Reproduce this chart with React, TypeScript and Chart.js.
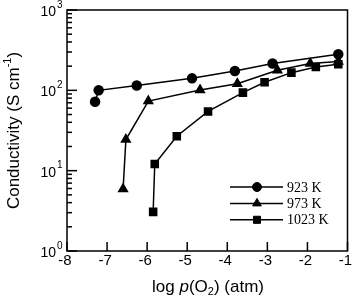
import React, { useEffect, useRef } from "react";
import { Chart, registerables } from "chart.js";

Chart.register(...registerables);

const labels923 = "923 K";
const labels973 = "973 K";
const labels1023 = "1023 K";

const x923 = [-7.3, -7.21, -6.26, -4.88, -3.81, -2.87, -1.23];
const y923 = [72, 100, 115, 141, 174, 216, 282];

const x973 = [-6.6, -6.53, -5.97, -4.68, -3.75, -2.75, -1.93, -1.23];
const y973 = [5.9, 24.4, 73.5, 101, 121, 178, 216, 228];

const x1023 = [-5.85, -5.81, -5.26, -4.48, -3.61, -3.07, -2.4, -1.79, -1.23];
const y1023 = [3.07, 12.1, 26.8, 54.6, 93.6, 126, 166, 195, 211];

const xTicks = [-8, -7, -6, -5, -4, -3, -2, -1];
const yDecades = [0, 1, 2, 3];

const toPts = (xs: number[], ys: number[]) => xs.map((x, i) => ({ x, y: ys[i] }));

const SANS = "Arial, 'Liberation Sans', sans-serif";
const SERIF = "'Times New Roman', 'Liberation Serif', serif";

function marker(ctx: CanvasRenderingContext2D, style: string, r: number, x: number, y: number) {
  ctx.beginPath();
  if (style === "circle") {
    ctx.arc(x, y, r, 0, Math.PI * 2);
  } else if (style === "triangle") {
    const h = r * 1.5;
    const s = r * Math.sqrt(3) * 0.5;
    ctx.moveTo(x, y - r);
    ctx.lineTo(x + s, y - r + h);
    ctx.lineTo(x - s, y - r + h);
    ctx.closePath();
  } else {
    const s = r * Math.SQRT1_2;
    ctx.rect(x - s, y - s, 2 * s, 2 * s);
  }
  ctx.fill();
  ctx.lineWidth = 1;
  ctx.stroke();
}

const decorPlugin = {
  id: "decor",
  afterDraw(chart: any) {
    const { ctx, chartArea } = chart;
    const xs = chart.scales.x;
    const ys = chart.scales.y;
    const { left, right, top, bottom } = chartArea;
    ctx.save();
    ctx.strokeStyle = "#000";
    ctx.fillStyle = "#000";
    ctx.lineWidth = 1.5;
    ctx.strokeRect(left, top, right - left, bottom - top);

    // x ticks
    ctx.lineWidth = 1.5;
    ctx.font = `15px ${SANS}`;
    ctx.textAlign = "center";
    ctx.textBaseline = "middle";
    xTicks.forEach((v) => {
      const px = xs.getPixelForValue(v);
      ctx.beginPath();
      ctx.moveTo(px, bottom);
      ctx.lineTo(px, bottom - 9);
      ctx.stroke();
      ctx.fillText(String(v), px - 2, bottom + 10);
    });

    // y ticks
    yDecades.forEach((d) => {
      const base = Math.pow(10, d);
      const py = ys.getPixelForValue(base);
      ctx.beginPath();
      ctx.moveTo(left, py);
      ctx.lineTo(left + 10, py);
      ctx.stroke();
      if (d < 3) {
        for (let m = 2; m <= 9; m++) {
          const pm = ys.getPixelForValue(base * m);
          ctx.beginPath();
          ctx.moveTo(left, pm);
          ctx.lineTo(left + 5, pm);
          ctx.stroke();
        }
      }
      ctx.textAlign = "right";
      ctx.textBaseline = "middle";
      ctx.font = `14px ${SANS}`;
      ctx.fillText("10", left - 11, py + 2);
      ctx.textAlign = "left";
      ctx.font = `10px ${SANS}`;
      ctx.fillText(String(d), left - 10, py - 5);
    });

    // y title
    ctx.save();
    ctx.translate(14, (top + bottom) / 2);
    ctx.rotate(-Math.PI / 2);
    ctx.textBaseline = "middle";
    const t1 = "Conductivity (S cm";
    const sup = "-1";
    const t2 = ")";
    ctx.font = `17px ${SANS}`;
    const w1 = ctx.measureText(t1).width;
    const w3 = ctx.measureText(t2).width;
    ctx.font = `11px ${SANS}`;
    const w2 = ctx.measureText(sup).width;
    const tot = w1 + w2 + w3;
    let sx = -tot / 2;
    ctx.textAlign = "left";
    ctx.font = `17px ${SANS}`;
    ctx.fillText(t1, sx, 0);
    sx += w1;
    ctx.font = `11px ${SANS}`;
    ctx.fillText(sup, sx, -6);
    sx += w2;
    ctx.font = `17px ${SANS}`;
    ctx.fillText(t2, sx, 0);
    ctx.restore();

    // x title
    {
      const cy = 287;
      const parts: [string, string, number][] = [
        ["log ", `17px ${SANS}`, 0],
        ["p", `italic 17px ${SANS}`, 0],
        ["(O", `17px ${SANS}`, 0],
        ["2", `11px ${SANS}`, 5],
        [") (atm)", `17px ${SANS}`, 0],
      ];
      let tot2 = 0;
      parts.forEach(([s, f]) => {
        ctx.font = f;
        tot2 += ctx.measureText(s).width;
      });
      let px = 208 - tot2 / 2;
      ctx.textAlign = "left";
      ctx.textBaseline = "middle";
      parts.forEach(([s, f, dy]) => {
        ctx.font = f;
        ctx.fillText(s, px, cy + dy);
        px += ctx.measureText(s).width;
      });
    }

    // legend
    const rows: [string, string, number][] = [
      [labels923, "circle", 4.5],
      [labels973, "triangle", 5],
      [labels1023, "rect", 5],
    ];
    rows.forEach(([label, style, r], i) => {
      const y = 187 + i * 16.4;
      ctx.lineWidth = 1.5;
      ctx.beginPath();
      ctx.moveTo(230, y);
      ctx.lineTo(283, y);
      ctx.stroke();
      marker(ctx, style, r, 257, y);
      ctx.font = `14px ${SERIF}`;
      ctx.textAlign = "left";
      ctx.textBaseline = "middle";
      ctx.fillText(label, 287, y + 1);
    });
    ctx.restore();
  },
};

export default function App() {
  const ref = useRef<HTMLCanvasElement>(null);
  useEffect(() => {
    if (!ref.current) return;
    const common = {
      borderColor: "#000",
      backgroundColor: "#000",
      pointBackgroundColor: "#000",
      pointBorderColor: "#000",
      borderWidth: 1.5,
      showLine: true,
      tension: 0,
    };
    const chart = new Chart(ref.current, {
      type: "line",
      data: {
        datasets: [
          { ...common, label: labels923, data: toPts(x923, y923), pointStyle: "circle", pointRadius: 4.5 },
          { ...common, label: labels973, data: toPts(x973, y973), pointStyle: "triangle", pointRadius: 5 },
          { ...common, label: labels1023, data: toPts(x1023, y1023), pointStyle: "rect", pointRadius: 5 },
        ],
      },
      options: {
        animation: false,
        responsive: false,
        layout: { padding: { left: 67, top: 10, right: 5, bottom: 50 } },
        plugins: { legend: { display: false }, tooltip: { enabled: false } },
        scales: {
          x: { type: "linear", min: -8, max: -1, display: false },
          y: { type: "logarithmic", min: 1, max: 1000, display: false },
        },
      },
      plugins: [decorPlugin],
    });
    return () => chart.destroy();
  }, []);
  return (
    <div style={{ position: "absolute", left: 0, top: 0, width: 354, height: 301, background: "#fff" }}>
      <canvas ref={ref} width={354} height={301} />
    </div>
  );
}
